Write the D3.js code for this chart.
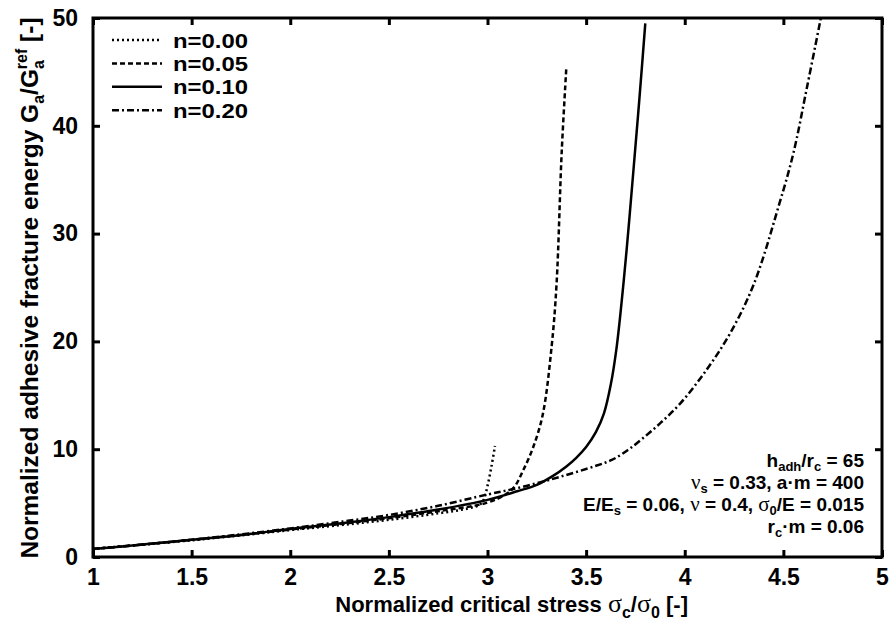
<!DOCTYPE html>
<html>
<head>
<meta charset="utf-8">
<script src="https://cdn.jsdelivr.net/npm/d3@7"></script>
<style>
body { margin: 0; background: #fff; }
text { font-family: "Liberation Sans", Arial, Helvetica, sans-serif; font-weight: bold; fill: #000; }
.greek { font-family: "Liberation Serif", serif; font-weight: normal; }
</style>
</head>
<body>
<svg id="chart" width="896" height="624"></svg>
<script>
// tick values
const xTicks = [1, 1.5, 2, 2.5, 3, 3.5, 4, 4.5, 5];
const yTicks = [0, 10, 20, 30, 40, 50];

// n = 0.00 (dotted)
const n000X = [1, 1.25, 1.5, 1.75, 2, 2.25, 2.5, 2.75, 2.9, 2.96, 2.98, 3.0, 3.02, 3.038];
const n000Y = [0.75, 1.15, 1.55, 2.0, 2.5, 2.95, 3.45, 4.05, 4.5, 4.85, 5.3, 6.6, 8.4, 10.3];

// n = 0.05 (dashed)
const n005X = [1, 1.25, 1.5, 1.75, 2, 2.25, 2.5, 2.75, 3.0, 3.1, 3.14, 3.18, 3.23, 3.28, 3.325, 3.35, 3.376, 3.40];
const n005Y = [0.75, 1.15, 1.6, 2.05, 2.55, 3.05, 3.6, 4.25, 5.05, 5.9, 6.6, 8.0, 10.1, 13.2, 19.5, 25.3, 37.5, 45.5];

// n = 0.10 (solid)
const n010X = [1, 1.25, 1.5, 1.75, 2, 2.25, 2.5, 2.75, 3.0, 3.15, 3.25, 3.33, 3.4, 3.45, 3.5, 3.55, 3.59, 3.625, 3.655, 3.69, 3.715, 3.74, 3.77, 3.80];
const n010Y = [0.75, 1.15, 1.6, 2.05, 2.6, 3.1, 3.7, 4.4, 5.3, 6.1, 6.7, 7.5, 8.4, 9.2, 10.2, 11.6, 13.3, 16.0, 19.5, 25.5, 30.5, 35.9, 42.5, 49.5];

// n = 0.20 (dash-dot)
const n020X = [1, 1.25, 1.5, 1.75, 2, 2.25, 2.5, 2.75, 3.0, 3.13, 3.25, 3.37, 3.54, 3.63, 3.71, 3.78, 3.875, 3.98, 4.11, 4.23, 4.35, 4.48, 4.55, 4.62, 4.69];
const n020Y = [0.75, 1.15, 1.6, 2.1, 2.65, 3.25, 3.9, 4.75, 5.8, 6.3, 6.84, 7.45, 8.4, 9.0, 9.9, 10.9, 12.4, 14.3, 17.35, 20.75, 25.3, 32.8, 37.4, 43.6, 50];

const labels = ["n=0.00", "n=0.05", "n=0.10", "n=0.20"];
const dashes = ["2,3", "5,3", null, "7,3,2,3"];
const seriesX = [n000X, n005X, n010X, n020X];
const seriesY = [n000Y, n005Y, n010Y, n020Y];

const margin = {top: 18, right: 14, bottom: 67, left: 93};
const W = 896, H = 624;
const width = W - margin.left - margin.right,
      height = H - margin.top - margin.bottom;

const svg = d3.select('#chart');
const g = svg.append('g').attr('transform', `translate(${margin.left},${margin.top})`);

const x = d3.scaleLinear().domain([1, 5]).range([0, width]);
const y = d3.scaleLinear().domain([0, 50]).range([height, 0]);

// axes with inward ticks, mirrored on top/right
const tickLen = 7;
const axB = g.append('g').attr('transform', `translate(0,${height})`)
  .call(d3.axisBottom(x).tickValues(xTicks).tickSizeInner(-tickLen).tickSizeOuter(0).tickPadding(12).tickFormat(d3.format('')));
const axT = g.append('g')
  .call(d3.axisTop(x).tickValues(xTicks).tickSizeInner(-tickLen).tickSizeOuter(0).tickFormat(''));
const axL = g.append('g')
  .call(d3.axisLeft(y).tickValues(yTicks).tickSizeInner(-tickLen).tickSizeOuter(0).tickPadding(15));
const axR = g.append('g').attr('transform', `translate(${width},0)`)
  .call(d3.axisRight(y).tickValues(yTicks).tickSizeInner(-tickLen).tickSizeOuter(0).tickFormat(''));

[axB, axT, axL, axR].forEach(a => {
  a.select('.domain').remove();
  a.selectAll('line').attr('stroke', '#000').attr('stroke-width', 3);
  a.selectAll('text').style('font-size', '23px').attr('fill', '#000');
});

// frame
g.append('rect').attr('x', 0).attr('y', 0).attr('width', width).attr('height', height)
  .attr('fill', 'none').attr('stroke', '#000').attr('stroke-width', 3);

// curves
g.append('clipPath').attr('id', 'clip').append('rect')
  .attr('x', 0).attr('y', -2).attr('width', width).attr('height', height + 2);

const line = d3.line().x(d => x(d[0])).y(d => y(d[1])).curve(d3.curveCatmullRom.alpha(0.5));

seriesX.forEach((xs, i) => {
  const pts = xs.map((v, k) => [v, seriesY[i][k]]);
  g.append('path').datum(pts)
    .attr('clip-path', 'url(#clip)')
    .attr('d', line)
    .attr('fill', 'none')
    .attr('stroke', '#000')
    .attr('stroke-width', 2.5)
    .attr('stroke-dasharray', dashes[i]);
});

// legend
const leg = svg.append('g');
labels.forEach((lab, i) => {
  const yy = 40 + i * 23.4;
  leg.append('line').attr('x1', 112).attr('x2', 162).attr('y1', yy).attr('y2', yy)
    .attr('stroke', '#000').attr('stroke-width', 2.5).attr('stroke-dasharray', dashes[i]);
  leg.append('text').attr('x', 173).attr('y', yy + 7.5).style('font-size', '20.5px')
    .attr('textLength', 75).attr('lengthAdjust', 'spacingAndGlyphs').text(lab);
});

// x axis title
const xt = svg.append('text').attr('x', 688).attr('y', 612).attr('text-anchor', 'end').style('font-size', '22px');
xt.append('tspan').text('Normalized critical stress ');
xt.append('tspan').attr('class', 'greek').style('font-size', '26px').text('σ');
xt.append('tspan').attr('dy', 6).style('font-size', '16px').text('c');
xt.append('tspan').attr('dy', -6).text('/');
xt.append('tspan').attr('class', 'greek').style('font-size', '26px').text('σ');
xt.append('tspan').attr('dy', 6).style('font-size', '16px').text('0');
xt.append('tspan').attr('dy', -6).text(' [-]');

// y axis title
const yt = svg.append('text').attr('transform', 'translate(38,288) rotate(-90)')
  .attr('text-anchor', 'middle').style('font-size', '24.5px');
yt.append('tspan').text('Normalized adhesive fracture energy G');
yt.append('tspan').attr('dy', 6).style('font-size', '16px').text('a');
yt.append('tspan').attr('dy', -6).text('/G');
yt.append('tspan').attr('dy', 6).style('font-size', '16px').text('a');
yt.append('tspan').attr('dy', -17).attr('dx', -9).style('font-size', '16px').text('ref');
yt.append('tspan').attr('dy', 11).text(' [-]');

// parameter annotation
const ann = svg.append('g').attr('text-anchor', 'end');
function annLine(yy) { return ann.append('text').attr('x', 864).attr('y', yy).style('font-size', '19px'); }
const sub = (t, s) => t.append('tspan').attr('dy', 3.5).style('font-size', '13px').text(s);
const up = (t, s) => t.append('tspan').attr('dy', -3.5).text(s);

let a1 = annLine(467);
a1.append('tspan').text('h'); sub(a1, 'adh'); up(a1, '/r'); sub(a1, 'c'); up(a1, ' = 65');

let a2 = annLine(489);
a2.append('tspan').attr('class', 'greek').style('font-size', '21px').text('ν'); sub(a2, 's'); up(a2, ' = 0.33, a·m = 400');

let a3 = annLine(511);
a3.append('tspan').text('E/E'); sub(a3, 's'); up(a3, ' = 0.06, ');
a3.append('tspan').attr('class', 'greek').style('font-size', '21px').text('ν');
a3.append('tspan').text(' = 0.4, ');
a3.append('tspan').attr('class', 'greek').style('font-size', '21px').text('σ');
sub(a3, '0'); up(a3, '/E = 0.015');

let a4 = annLine(533);
a4.append('tspan').text('r'); sub(a4, 'c'); up(a4, '·m = 0.06');
</script>
</body>
</html>
